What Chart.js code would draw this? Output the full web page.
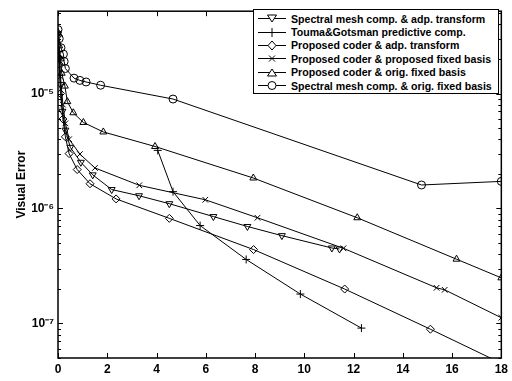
<!DOCTYPE html>
<html>
<head>
<meta charset="utf-8">
<script src="https://cdn.jsdelivr.net/npm/chart.js@4.4.0/dist/chart.umd.min.js"></script>
<style>
  html, body { margin: 0; padding: 0; background: #fff; }
  #wrap { position: relative; width: 512px; height: 381px; }
  #legend {
    position: absolute; left: 253px; top: 9px; width: 244px;
    border: 1px solid #000; background: #fff; padding: 2px 0 1px 0;
    font: bold 10.6px "Liberation Sans", Arial, sans-serif; color: #000;
  }
  .row { display: flex; align-items: center; height: 13.4px; white-space: nowrap; }
  .row svg { margin: 0 4px 0 3px; flex: none; }
</style>
</head>
<body>
<div id="wrap">
  <canvas id="chart" width="512" height="381"></canvas>
  <div id="legend"></div>
</div>
<script>
// values (x = bits, y = visual error)
const labels = [
  'Spectral mesh comp. & adp. transform',
  'Touma&Gotsman predictive comp.',
  'Proposed coder & adp. transform',
  'Proposed coder & proposed fixed basis',
  'Proposed coder & orig. fixed basis',
  'Spectral mesh comp. & orig. fixed basis'
];

const xSpecAdp = [0, 0.05, 0.1, 0.18, 0.3, 0.5, 0.93, 1.41, 2.18, 3.29, 4.52, 6.31, 7.69, 9.09, 11.12, 11.43];
const ySpecAdp = [3.3e-5, 2.0e-5, 1.2e-5, 7.0e-6, 4.8e-6, 3.4e-6, 2.52e-6, 1.96e-6, 1.46e-6, 1.29e-6, 1.10e-6, 8.5e-7, 6.97e-7, 5.8e-7, 4.53e-7, 4.44e-7];

const xTouma = [4.05, 4.67, 5.77, 7.64, 9.84, 12.32];
const yTouma = [3.2e-6, 1.4e-6, 7.1e-7, 3.6e-7, 1.8e-7, 9.1e-8];

const xPropAdp = [0, 0.05, 0.1, 0.2, 0.3, 0.45, 0.78, 1.30, 2.36, 4.52, 7.94, 11.64, 15.12, 18];
const yPropAdp = [3.2e-5, 1.8e-5, 1.0e-5, 6.0e-6, 4.2e-6, 3.0e-6, 2.18e-6, 1.64e-6, 1.21e-6, 8.2e-7, 4.39e-7, 1.99e-7, 8.9e-8, 4.5e-8];

const xPropFix = [0, 0.05, 0.1, 0.2, 0.3, 0.45, 0.89, 1.50, 3.30, 5.98, 8.10, 11.59, 15.37, 15.70, 18];
const yPropFix = [3.3e-5, 2.2e-5, 1.4e-5, 8.0e-6, 5.5e-6, 4.0e-6, 2.97e-6, 2.25e-6, 1.59e-6, 1.19e-6, 8.3e-7, 4.5e-7, 2.04e-7, 1.96e-7, 1.12e-7];

const xPropOrig = [0, 0.05, 0.1, 0.15, 0.28, 0.38, 0.62, 1.03, 1.84, 3.94, 7.93, 12.15, 16.18, 18];
const yPropOrig = [3.4e-5, 2.6e-5, 2.0e-5, 1.5e-5, 1.16e-5, 8.5e-6, 6.8e-6, 5.6e-6, 4.63e-6, 3.46e-6, 1.84e-6, 8.3e-7, 3.62e-7, 2.49e-7];

const xSpecOrig = [0, 0.05, 0.12, 0.22, 0.25, 0.3, 0.65, 0.89, 1.14, 1.73, 4.67, 14.76, 18];
const ySpecOrig = [3.6e-5, 3.0e-5, 2.5e-5, 2.2e-5, 1.9e-5, 1.65e-5, 1.36e-5, 1.30e-5, 1.26e-5, 1.18e-5, 8.95e-6, 1.60e-6, 1.72e-6];

const xTicks = [0, 2, 4, 6, 8, 10, 12, 14, 16, 18];
const yMajor = [1e-7, 1e-6, 1e-5];

const toPoints = (xs, ys) => xs.map((x, i) => ({ x: x, y: ys[i] }));

const seriesDefs = [
  { x: xSpecAdp, y: ySpecAdp, style: 'triangle', rot: 180, mark: 'tdown' },
  { x: xTouma, y: yTouma, style: 'cross', rot: 0, mark: 'plus' },
  { x: xPropAdp, y: yPropAdp, style: 'rectRot', rot: 0, mark: 'diamond' },
  { x: xPropFix, y: yPropFix, style: 'crossRot', rot: 0, mark: 'x' },
  { x: xPropOrig, y: yPropOrig, style: 'triangle', rot: 0, mark: 'tup' },
  { x: xSpecOrig, y: ySpecOrig, style: 'circle', rot: 0, mark: 'circle' }
];

const datasets = seriesDefs.map((s, i) => ({
  label: labels[i],
  data: toPoints(s.x, s.y),
  showLine: true,
  borderColor: '#000',
  borderWidth: 1,
  pointStyle: s.style,
  pointRotation: s.rot,
  pointRadius: 4,
  pointBorderWidth: 1,
  pointBorderColor: '#000',
  pointBackgroundColor: 'rgba(255,255,255,0)'
}));

// matlab style box with inward ticks on all four sides
const boxPlugin = {
  id: 'boxPlugin',
  afterDraw(chart) {
    const { ctx, chartArea: a, scales } = chart;
    ctx.save();
    ctx.strokeStyle = '#000';
    ctx.lineWidth = 1.5;
    ctx.strokeRect(a.left, a.top, a.right - a.left, a.bottom - a.top);
    ctx.lineWidth = 1;
    ctx.beginPath();
    xTicks.forEach(v => {
      const px = Math.round(scales.x.getPixelForValue(v)) + 0.5;
      ctx.moveTo(px, a.bottom); ctx.lineTo(px, a.bottom - 5);
      ctx.moveTo(px, a.top); ctx.lineTo(px, a.top + 5);
    });
    for (let e = -8; e <= -4; e++) {
      for (let k = 1; k <= 9; k++) {
        const v = k * Math.pow(10, e);
        if (v < scales.y.min || v > scales.y.max) continue;
        const py = Math.round(scales.y.getPixelForValue(v)) + 0.5;
        const len = k === 1 ? 5 : 3;
        ctx.moveTo(a.left, py); ctx.lineTo(a.left + len, py);
        ctx.moveTo(a.right, py); ctx.lineTo(a.right - len, py);
      }
    }
    ctx.stroke();
    ctx.restore();
  }
};

const sup = { '-': '⁻', '0': '⁰', '1': '¹', '2': '²', '3': '³', '4': '⁴', '5': '⁵', '6': '⁶', '7': '⁷', '8': '⁸', '9': '⁹' };

const chart = new Chart(document.getElementById('chart').getContext('2d'), {
  type: 'scatter',
  data: { datasets: datasets },
  options: {
    responsive: false,
    animation: false,
    devicePixelRatio: 1,
    layout: { padding: { top: 8, right: 10, left: 0, bottom: 0 } },
    plugins: { legend: { display: false }, tooltip: { enabled: false } },
    scales: {
      x: {
        type: 'linear', min: 0, max: 18,
        afterBuildTicks: (scale) => { scale.ticks = xTicks.map(v => ({ value: v })); },
        afterFit: (scale) => { scale.height = 23; },
        grid: { display: false, drawTicks: false },
        border: { display: false },
        ticks: { color: '#000', padding: 4, font: { family: 'Liberation Sans', size: 12, weight: 'bold' } }
      },
      y: {
        type: 'logarithmic', min: 5e-8, max: 5.2e-5,
        afterBuildTicks: (scale) => { scale.ticks = yMajor.map(v => ({ value: v })); },
        afterFit: (scale) => { scale.width = 58; },
        grid: { display: false, drawTicks: false },
        border: { display: false },
        title: { display: true, text: 'Visual Error', color: '#000', padding: { top: 14, bottom: 4 },
                 font: { family: 'Liberation Sans', size: 12, weight: 'bold' } },
        ticks: {
          color: '#000', padding: 4, autoSkip: false,
          font: { family: 'Liberation Sans', size: 12, weight: 'bold' },
          callback: (v) => '10' + String(Math.round(Math.log10(v))).split('').map(c => sup[c]).join('')
        }
      }
    }
  },
  plugins: [boxPlugin]
});

// html legend with line + marker samples
const markSvg = (m) => {
  const c = 'stroke="#000" stroke-width="1" fill="none"';
  let shape = '';
  if (m === 'tdown') shape = `<polygon points="10.5,3 19.5,3 15,10" fill="#fff" stroke="#000" stroke-width="1"/>`;
  if (m === 'tup') shape = `<polygon points="10.5,10 19.5,10 15,3" fill="#fff" stroke="#000" stroke-width="1"/>`;
  if (m === 'plus') shape = `<path d="M15,2 V11 M10.5,6.5 H19.5" ${c}/>`;
  if (m === 'x') shape = `<path d="M12,3.5 L18,9.5 M18,3.5 L12,9.5" ${c}/>`;
  if (m === 'diamond') shape = `<polygon points="15,2 19,6.5 15,11 11,6.5" fill="#fff" stroke="#000" stroke-width="1"/>`;
  if (m === 'circle') shape = `<circle cx="15" cy="6.5" r="4" fill="#fff" stroke="#000" stroke-width="1"/>`;
  return `<svg width="30" height="13" viewBox="0 0 30 13"><line x1="1" y1="6.5" x2="29" y2="6.5" stroke="#000" stroke-width="1"/>${shape}</svg>`;
};

document.getElementById('legend').innerHTML = seriesDefs.map((s, i) =>
  `<div class="row">${markSvg(s.mark)}<span>${labels[i]}</span></div>`).join('');
</script>
</body>
</html>
